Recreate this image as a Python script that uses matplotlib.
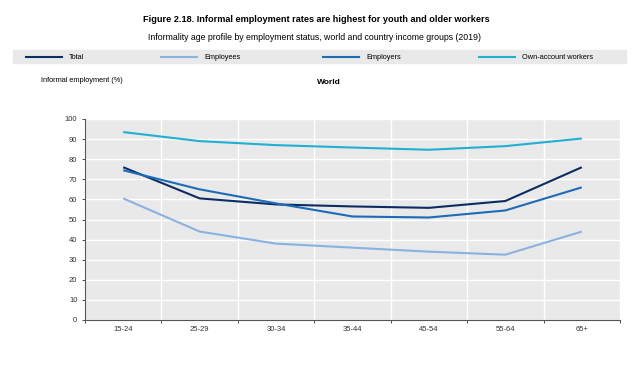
import matplotlib.pyplot as plt
from matplotlib.lines import Line2D
import numpy as np

plt.rcParams['font.family'] = ['Liberation Sans', 'DejaVu Sans']

ages = ['15-24', '25-29', '30-34', '35-44', '45-54', '55-64', '65+']
total = [76, 60.5, 57.5, 56.5, 55.8, 59.2, 76]
employees = [60.5, 44, 38, 36, 34, 32.5, 44]
employers = [74.5, 65, 58, 51.5, 51, 54.5, 66]
own_account = [93.5, 89, 87, 85.8, 84.7, 86.5, 90.3]

names = ['Total', 'Employees', 'Employers', 'Own-account workers']
colors = ['#0b2d63', '#8ab2e0', '#1c6cb8', '#1fb0d2']

W, H = 641, 383
fig = plt.figure(figsize=(W/100, H/100), dpi=100)
ax = fig.add_axes([85/W, 1-320/H, 535/W, 201/H])
ax.set_facecolor('#e9e9e9')

x = np.arange(len(ages))
series = [total, employees, employers, own_account]
for s, c in zip(series, colors):
    ax.plot(x, s, color=c, lw=1.5, solid_capstyle='butt')

ax.set_xlim(-0.5, len(ages) - 0.5)
ax.set_ylim(0, 100)
ax.set_yticks(range(0, 101, 10))
ax.set_xticks(x)
ax.set_xticklabels(ages)
ax.set_xticks(np.arange(-0.5, len(ages)), minor=True)
ax.grid(True, which='major', axis='y', color='white', lw=1)
ax.grid(True, which='minor', axis='x', color='white', lw=1)
ax.set_axisbelow(True)
ax.tick_params(axis='both', labelsize=5.5, colors='#333333', length=2, width=0.6)
ax.tick_params(axis='x', which='major', length=0, pad=4)
ax.tick_params(axis='x', which='minor', length=2, width=0.6, color='#333333')
for sp in ['top', 'right']:
    ax.spines[sp].set_visible(False)
for sp in ['left', 'bottom']:
    ax.spines[sp].set_color('#555555')
    ax.spines[sp].set_linewidth(0.8)

fig.text(316/W, 1-19/H, 'Figure 2.18. Informal employment rates are highest for youth and older workers',
         ha='center', va='center', fontsize=6.6, fontweight='bold')
fig.text(315/W, 1-37/H, 'Informality age profile by employment status, world and country income groups (2019)',
         ha='center', va='center', fontsize=6.3)

# legend band drawn by hand
band = plt.Rectangle((13/W, 1-63/H), 613/W, 13/H, transform=fig.transFigure,
                     color='#e9e9e9', zorder=0)
fig.patches.append(band)
leg_x = [26, 161, 323, 479]
ly = 1 - 56.5/H
for x0, name, c in zip(leg_x, names, colors):
    fig.lines.append(Line2D([x0/W, (x0+36)/W], [ly, ly], transform=fig.transFigure,
                            color=c, lw=1.5))
    fig.text((x0+43)/W, ly, name, ha='left', va='center_baseline', fontsize=5.3)

fig.text(41/W, 1-81/H, 'Informal employment (%)', ha='left', va='center', fontsize=5.3)
fig.text(317/W, 1-82/H, 'World', ha='left', va='center', fontsize=6, fontweight='bold')

fig.savefig('out.png', dpi=100)
